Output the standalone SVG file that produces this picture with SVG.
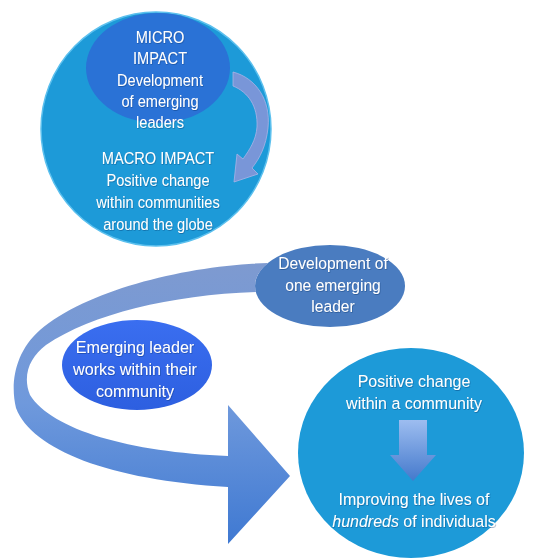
<svg xmlns="http://www.w3.org/2000/svg" width="535" height="559" viewBox="0 0 535 559">
<style>
.t{font-family:"Liberation Sans",Arial,sans-serif;font-size:17px;fill:#ffffff;text-anchor:middle;filter:url(#ts)}
</style>
<defs>
<filter id="ts" x="-10%" y="-30%" width="120%" height="160%">
<feDropShadow dx="0.6" dy="0.8" stdDeviation="0.7" flood-color="#0a2a60" flood-opacity="0.45"/>
</filter>
<linearGradient id="bigArrow" x1="0" y1="0" x2="0" y2="1">
<stop offset="0" stop-color="#7e9ad0"/>
<stop offset="0.5" stop-color="#6f99dc"/>
<stop offset="1" stop-color="#3f79d2"/>
</linearGradient>
<linearGradient id="downArrow" x1="0" y1="0" x2="0" y2="1">
<stop offset="0" stop-color="#9dbdf0"/>
<stop offset="1" stop-color="#4479cc"/>
</linearGradient>
<linearGradient id="emerg" x1="0" y1="0" x2="0" y2="1">
<stop offset="0" stop-color="#3a6ef0"/>
<stop offset="1" stop-color="#2d5fe0"/>
</linearGradient>
</defs>
<rect width="535" height="559" fill="#ffffff"/>

<g id="node-macro">
<ellipse cx="156" cy="129" rx="115" ry="117" fill="#1d9ad8" stroke="#5cc0ee" stroke-width="1.5"/>
<g transform="translate(158,0) scale(0.86,1)">
<text class="t" x="0" y="164">MACRO IMPACT</text>
<text class="t" x="0" y="186">Positive change</text>
<text class="t" x="0" y="208">within communities</text>
<text class="t" x="0" y="230">around the globe</text>
</g>
</g>
<g id="node-micro">
<ellipse cx="158" cy="68" rx="72" ry="55" fill="#2a72d6"/>
<g transform="translate(160,0) scale(0.86,1)">
<text class="t" x="0" y="43">MICRO</text>
<text class="t" x="0" y="64">IMPACT</text>
<text class="t" x="0" y="86">Development</text>
<text class="t" x="0" y="107">of emerging</text>
<text class="t" x="0" y="128">leaders</text>
</g>
</g>

<g id="node-development">
<ellipse cx="330" cy="286" rx="75" ry="41" fill="#4a7cc0"/>
<g transform="translate(333,0) scale(0.92,1)">
<text class="t" x="0" y="269">Development of</text>
<text class="t" x="0" y="291">one emerging</text>
<text class="t" x="0" y="312">leader</text>
</g>
</g>

<g id="node-emerging">
<ellipse cx="137" cy="365" rx="75" ry="45" fill="url(#emerg)"/>
<g transform="translate(135,0) scale(0.95,1)">
<text class="t" x="0" y="353">Emerging leader</text>
<text class="t" x="0" y="375">works within their</text>
<text class="t" x="0" y="397">community</text>
</g>
</g>

<g id="node-community">
<ellipse cx="411" cy="453" rx="113" ry="105" fill="#1d9ad8"/>
<g transform="translate(414,0) scale(0.94,1)">
<text class="t" x="0" y="387">Positive change</text>
<text class="t" x="0" y="409">within a community</text>
<text class="t" x="0" y="505">Improving the lives of</text>
<text class="t" x="0" y="527"><tspan font-style="italic">hundreds</tspan> of individuals</text>
</g>
</g>

<g id="connectors">
<path id="big-arrow" d="M 268,263 C 190,265 88,289 40,330 C 15,352 10,383 16,408 C 32,450 110,480 228,487 L 228,544 L 290,476 L 228,405 L 228,456 C 130,452 52,430 30,395 C 22,375 30,357 46,345 C 92,314 170,295 256,292 A 75 41 0 0 1 268,263 Z" fill="url(#bigArrow)"/>
<path id="small-arrow" d="M 233,72 C 256,78 271,100 268,128 C 266,146 260,158 252,168 L 258,174 L 234,182 L 237,154 L 243,159 C 250,149 256,140 257,127 C 258,106 248,92 233,86 Z" fill="#8a95d8" fill-opacity="0.85" stroke="#a9b4e6" stroke-width="0.8"/>
<path id="down-arrow" d="M 399,420 L 427,420 L 427,455 L 436,455 L 413,481 L 390,455 L 399,455 Z" fill="url(#downArrow)"/>
</g>
</svg>
